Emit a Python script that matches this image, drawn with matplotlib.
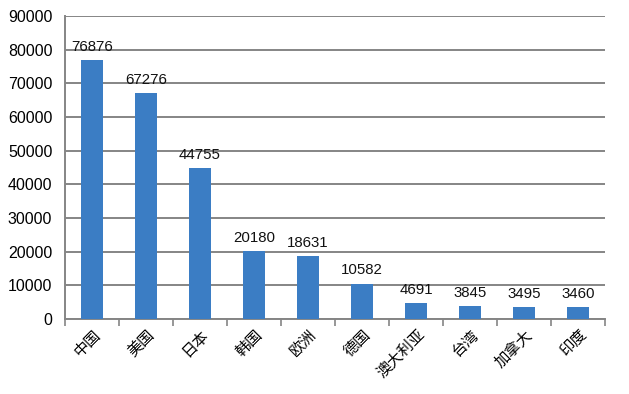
import matplotlib
matplotlib.use("Agg")
import matplotlib.pyplot as plt
import numpy as np

plt.rcParams['font.family'] = ['Noto Sans CJK SC', 'DejaVu Sans']

categories = ["中国", "美国", "日本", "韩国", "欧洲", "德国", "澳大利亚", "台湾", "加拿大", "印度"]
values = [76876, 67276, 44755, 20180, 18631, 10582, 4691, 3845, 3495, 3460]
yticks = [0, 10000, 20000, 30000, 40000, 50000, 60000, 70000, 80000, 90000]

fig = plt.figure(figsize=(6.29, 3.94), dpi=100)
ax = fig.add_axes([0.103, 0.19, 0.859, 0.769])

x = np.arange(len(categories))
ax.bar(x, values, width=0.4, color="#3b7dc4", zorder=3)
for xi, v in zip(x, values):
    ax.text(xi, v + 1800, str(v), ha="center", va="bottom", fontsize=10.8,
            family=["Liberation Sans", "DejaVu Sans"], color="#111111", zorder=4)

ax.set_xlim(-0.5, len(categories) - 0.5)
ax.set_ylim(0, 90000)
ax.set_yticks(yticks)
ax.set_yticklabels([str(t) for t in yticks], fontsize=11.5,
                   family=["Liberation Sans", "DejaVu Sans"])
ax.yaxis.grid(True, color="#858585", linewidth=1.4, zorder=0)
ax.tick_params(axis="y", length=0, pad=9)

ax.set_xticks(x)
ax.set_xticklabels(categories, rotation=45, ha="right", rotation_mode="anchor", fontsize=11)
ax.tick_params(axis="x", which="major", length=0, pad=5)
ax.set_xticks(np.arange(-0.5, len(categories), 1.0), minor=True)
ax.tick_params(axis="x", which="minor", length=5, color="#858585", width=1.2)

for s in ["top", "right"]:
    ax.spines[s].set_visible(False)
for s in ["left", "bottom"]:
    ax.spines[s].set_color("#858585")
    ax.spines[s].set_linewidth(1.4)

fig.savefig("out.png", dpi=100)
